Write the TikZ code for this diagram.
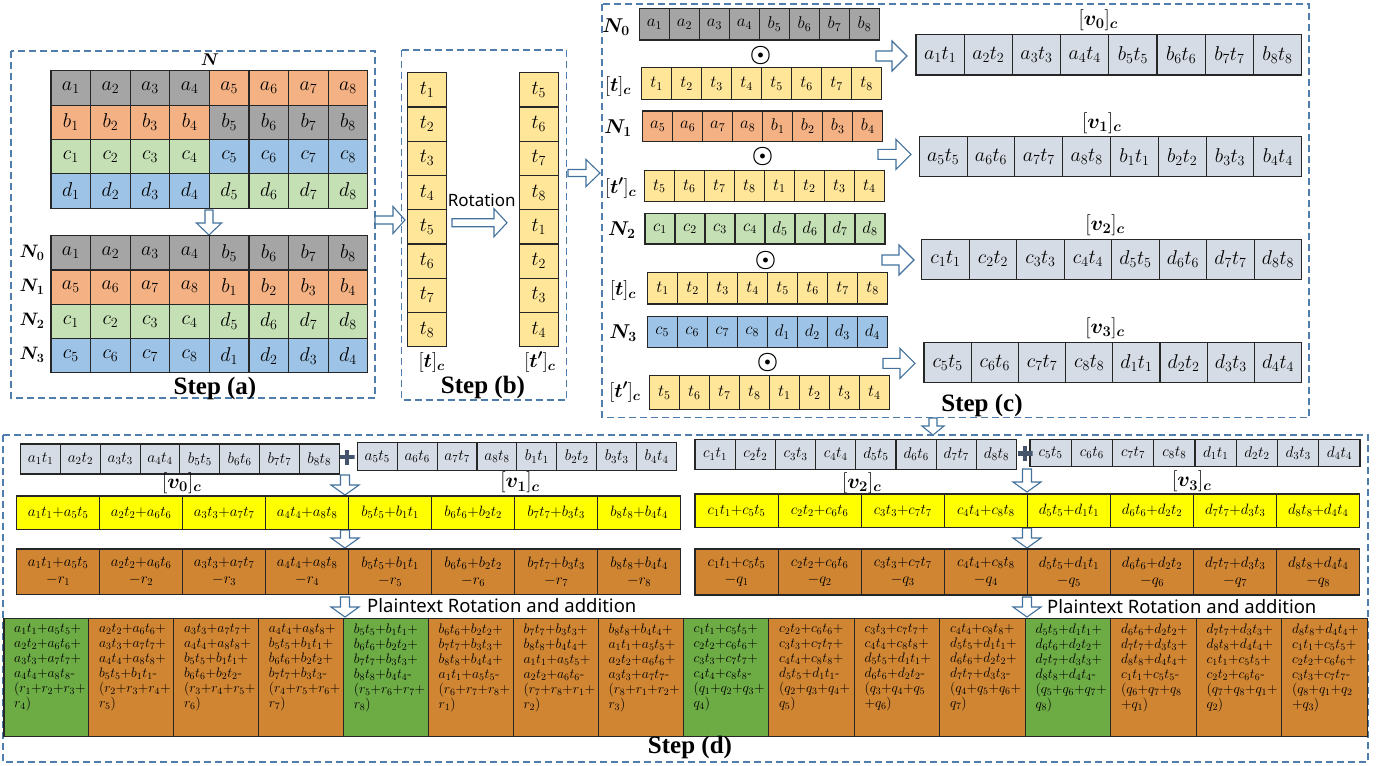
\RequirePackage{fix-cm}
\documentclass[tikz,border=0pt]{standalone}
\usepackage{amsmath}
\usepackage{fontspec}
\newfontfamily\stepfont{Liberation Serif}
\newfontfamily\lblfont{Noto Sans}
\definecolor{cgray}{HTML}{A5A5A5}
\definecolor{corange}{HTML}{F4B183}
\definecolor{cgreen}{HTML}{C5E0B4}
\definecolor{cblue}{HTML}{9DC3E6}
\definecolor{ctan}{HTML}{FFE699}
\definecolor{cv}{HTML}{D6DCE5}
\definecolor{cyel}{HTML}{FFFF00}
\definecolor{cbrown}{HTML}{D08533}
\definecolor{cgreenb}{HTML}{6DAB45}
\definecolor{cdash}{HTML}{4F7DAD}
\definecolor{carrow}{HTML}{41719C}
\definecolor{cborder}{HTML}{262626}
\definecolor{cplus}{HTML}{44546A}
\newcommand{\vt}[2]{#1_{#2}t_{#2}}
\newcommand{\pr}[4]{#1_{#2}t_{#2}{+}#3_{#4}t_{#4}}
% name, style, x0, y0, w, h, list of fill/text
\newcommand{\mixrow}[7]{%
  \foreach \fc/\tx [count=\i] in {#7} {
    \node[cellbox, #2, fill=\fc, minimum width=#5, minimum height=#6] (#1-\i) at ({#3+(\i-0.5)*#5},{#4+#6/2}) {$\tx$};
  }}
% name, style, x0, y0, w, h, color, list of texts
\newcommand{\unirow}[8]{%
  \foreach \tx [count=\i] in {#8} {
    \node[cellbox, #2, fill=#7, minimum width=#5, minimum height=#6] (#1-\i) at ({#3+(\i-0.5)*#5},{#4+#6/2}) {$\tx$};
  }}
% name, x0, y0, w, h, list of sum/minus
\newcommand{\orow}[6]{%
  \foreach \ta/\tb [count=\i] in {#6} {
    \node[cellbox, fill=cbrown, align=center, minimum width=#4, minimum height=#5, font=\fontsize{15}{17}\selectfont] (#1-\i) at ({#2+(\i-0.5)*#4},{#3+#5/2}) {$\ta$\\$-\tb$};
  }}
% name, x0, w, fill, text
\newcommand{\bcell}[5]{%
  \node[cellbox, fill=#4, minimum width=#3, minimum height=118.4] (#1) at ({#2+#3/2},677.5) {};
  \node[btext, anchor=north west] (#1-t) at ({#2+10},623.5) {#5};}
% x, y, angle, length, shaft half, head half, head length
\newcommand{\barr}[7]{%
  \draw[blockarrow, shift={(#1,#2)}, rotate=#3] (0,-#5) -- (#4-#7,-#5) -- (#4-#7,-#6) -- (#4,0) -- (#4-#7,#6) -- (#4-#7,#5) -- (0,#5) -- cycle;}
\begin{document}
\begin{tikzpicture}[x=1pt,y=-1pt,
  cellbox/.style={draw=cborder, line width=1.1pt, inner sep=0pt, outer sep=0pt},
  dashbox/.style={draw=cdash, line width=1.4pt, dash pattern=on 7pt off 4pt},
  blockarrow/.style={draw=carrow, fill=white, line width=1.1pt, line join=miter},
  steplbl/.style={inner sep=0pt, font=\stepfont\bfseries\fontsize{25}{25}\selectfont},
  mlbl/.style={inner sep=0pt, font=\fontsize{20}{20}\selectfont},
  slbl/.style={inner sep=0pt, font=\lblfont\fontsize{17}{17}\selectfont},
  fA/.style={font=\fontsize{20}{20}\selectfont},
  fC/.style={font=\fontsize{17}{17}\selectfont},
  fV/.style={font=\fontsize{20}{20}\selectfont},
  fD/.style={font=\fontsize{15.5}{15.5}\selectfont},
  fS/.style={font=\fontsize{15}{15}\selectfont},
  btext/.style={align=left, inner sep=0pt, font=\fontsize{13.8}{15}\selectfont},
  odot/.style={inner sep=0pt, font=\fontsize{24}{24}\selectfont},
  plusmark/.style={minimum size=15pt, inner sep=0pt, path picture={\draw[line width=4.5pt, cplus] (path picture bounding box.west) -- (path picture bounding box.east) (path picture bounding box.north) -- (path picture bounding box.south);}}
]
\useasboundingbox (0,0) rectangle (1385,766);

% ---------------- Step (a)
\draw[dashbox] (11,51) rectangle (375,398);
\node[mlbl, font=\fontsize{17}{17}\selectfont] (lN) at (210,60) {$\boldsymbol{N}$};
\mixrow{ga1}{fA}{51}{70.7}{39.6}{34.4}{cgray/a_1,cgray/a_2,cgray/a_3,cgray/a_4,corange/a_5,corange/a_6,corange/a_7,corange/a_8}
\mixrow{ga2}{fA}{51}{105.1}{39.6}{34.4}{corange/b_1,corange/b_2,corange/b_3,corange/b_4,cgray/b_5,cgray/b_6,cgray/b_7,cgray/b_8}
\mixrow{ga3}{fA}{51}{139.5}{39.6}{34.4}{cgreen/c_1,cgreen/c_2,cgreen/c_3,cgreen/c_4,cblue/c_5,cblue/c_6,cblue/c_7,cblue/c_8}
\mixrow{ga4}{fA}{51}{173.9}{39.6}{34.4}{cblue/d_1,cblue/d_2,cblue/d_3,cblue/d_4,cgreen/d_5,cgreen/d_6,cgreen/d_7,cgreen/d_8}
\barr{209}{210}{-90}{25}{4}{12.5}{12}
\unirow{gb1}{fA}{51}{235.7}{39.6}{34.3}{cgray}{a_1,a_2,a_3,a_4,b_5,b_6,b_7,b_8}
\unirow{gb2}{fA}{51}{270}{39.6}{34.3}{corange}{a_5,a_6,a_7,a_8,b_1,b_2,b_3,b_4}
\unirow{gb3}{fA}{51}{304.3}{39.6}{34.3}{cgreen}{c_1,c_2,c_3,c_4,d_5,d_6,d_7,d_8}
\unirow{gb4}{fA}{51}{338.6}{39.6}{34.3}{cblue}{c_5,c_6,c_7,c_8,d_1,d_2,d_3,d_4}
\node[mlbl, font=\fontsize{18}{18}\selectfont] (lN0) at (32,253) {$\boldsymbol{N_0}$};
\node[mlbl, font=\fontsize{18}{18}\selectfont] (lN1) at (32,287) {$\boldsymbol{N_1}$};
\node[mlbl, font=\fontsize{18}{18}\selectfont] (lN2) at (32,321) {$\boldsymbol{N_2}$};
\node[mlbl, font=\fontsize{18}{18}\selectfont] (lN3) at (32,355) {$\boldsymbol{N_3}$};
\node[steplbl] (stepa) at (215,388) {Step (a)};
\barr{375}{220}{0}{30}{4}{13.5}{12}

% ---------------- Step (b)
\draw[dashbox] (401.7,50) rectangle (566.7,400);
\foreach \tx [count=\i] in {1,2,3,4,5,6,7,8}
  \node[cellbox, fA, fill=ctan, minimum width=39.4, minimum height=34.25] (tb-\i) at (427,{72.7+(\i-0.5)*34.25}) {$t_{\tx}$};
\foreach \tx [count=\i] in {5,6,7,8,1,2,3,4}
  \node[cellbox, fA, fill=ctan, minimum width=39, minimum height=34.25] (tpb-\i) at (538.8,{72.7+(\i-0.5)*34.25}) {$t_{\tx}$};
\node[slbl] (rot) at (481.7,200.7) {Rotation};
\barr{452}{222.7}{0}{55}{4}{14}{13}
\node[mlbl] (ltb) at (431.7,362) {$[\boldsymbol{t}]_{\boldsymbol{c}}$};
\node[mlbl] (ltpb) at (540,362) {$[\boldsymbol{t'}]_{\boldsymbol{c}}$};
\node[steplbl] (stepb) at (483,387) {Step (b)};
\barr{568}{173}{0}{32}{3.5}{13.5}{14}

% ---------------- Step (c)
\draw[dashbox] (602,4) rectangle (1309,417.5);
\unirow{cN0}{fC}{639.5}{8.5}{30}{31.5}{cgray}{a_1,a_2,a_3,a_4,b_5,b_6,b_7,b_8}
\unirow{ct0}{fC}{641.7}{67.7}{30}{31.6}{ctan}{t_1,t_2,t_3,t_4,t_5,t_6,t_7,t_8}
\unirow{cN1}{fC}{642.7}{111}{30}{30.7}{corange}{a_5,a_6,a_7,a_8,b_1,b_2,b_3,b_4}
\unirow{ct1}{fC}{644.3}{170.7}{30}{31}{ctan}{t_5,t_6,t_7,t_8,t_1,t_2,t_3,t_4}
\unirow{cN2}{fC}{645}{213.3}{30}{30.7}{cgreen}{c_1,c_2,c_3,c_4,d_5,d_6,d_7,d_8}
\unirow{ct2}{fC}{647.7}{272.7}{30}{31.3}{ctan}{t_1,t_2,t_3,t_4,t_5,t_6,t_7,t_8}
\unirow{cN3}{fC}{647.3}{316.7}{30}{30.6}{cblue}{c_5,c_6,c_7,c_8,d_1,d_2,d_3,d_4}
\unirow{ct3}{fC}{649.3}{375.7}{30}{34}{ctan}{t_5,t_6,t_7,t_8,t_1,t_2,t_3,t_4}
\node[mlbl] (lcN0) at (616,27) {$\boldsymbol{N_0}$};
\node[mlbl] (lct0) at (618,86) {$[\boldsymbol{t}]_{\boldsymbol{c}}$};
\node[mlbl] (lcN1) at (618,128) {$\boldsymbol{N_1}$};
\node[mlbl] (lct1) at (620.7,188) {$[\boldsymbol{t'}]_{\boldsymbol{c}}$};
\node[mlbl] (lcN2) at (621.7,230) {$\boldsymbol{N_2}$};
\node[mlbl] (lct2) at (623,290) {$[\boldsymbol{t}]_{\boldsymbol{c}}$};
\node[mlbl] (lcN3) at (623,333) {$\boldsymbol{N_3}$};
\node[mlbl] (lct3) at (625,392) {$[\boldsymbol{t'}]_{\boldsymbol{c}}$};
\node[odot] (o0) at (760.7,55) {$\boldsymbol{\odot}$};
\node[odot] (o1) at (762.7,156) {$\boldsymbol{\odot}$};
\node[odot] (o2) at (765.7,260) {$\boldsymbol{\odot}$};
\node[odot] (o3) at (767.7,362.7) {$\boldsymbol{\odot}$};
\barr{876}{56}{0}{31}{5}{15}{15}
\barr{878}{154.3}{0}{33}{5}{15}{15}
\barr{882}{260}{0}{32}{5}{15}{15}
\barr{883}{363.3}{0}{32}{5}{15}{15}
\unirow{cv0}{fV}{916}{34.5}{48.2}{40.5}{cv}{\vt a1,\vt a2,\vt a3,\vt a4,\vt b5,\vt b6,\vt b7,\vt b8}
\unirow{cv1}{fV}{919.3}{136.7}{47.8}{40}{cv}{\vt a5,\vt a6,\vt a7,\vt a8,\vt b1,\vt b2,\vt b3,\vt b4}
\unirow{cv2}{fV}{921.7}{239.3}{47.5}{40}{cv}{\vt c1,\vt c2,\vt c3,\vt c4,\vt d5,\vt d6,\vt d7,\vt d8}
\unirow{cv3}{fV}{924}{342.7}{47.2}{40}{cv}{\vt c5,\vt c6,\vt c7,\vt c8,\vt d1,\vt d2,\vt d3,\vt d4}
\node[mlbl, font=\fontsize{21}{21}\selectfont] (lv0) at (1098.3,20) {$[\boldsymbol{v_0}]_{\boldsymbol{c}}$};
\node[mlbl, font=\fontsize{21}{21}\selectfont] (lv1) at (1101.7,123.3) {$[\boldsymbol{v_1}]_{\boldsymbol{c}}$};
\node[mlbl, font=\fontsize{21}{21}\selectfont] (lv2) at (1105,225) {$[\boldsymbol{v_2}]_{\boldsymbol{c}}$};
\node[mlbl, font=\fontsize{21}{21}\selectfont] (lv3) at (1105,328.3) {$[\boldsymbol{v_3}]_{\boldsymbol{c}}$};
\node[steplbl] (stepc) at (982,405) {Step (c)};
\barr{933}{418}{-90}{17}{4}{11}{9}

% ---------------- Step (d)
\draw[dashbox] (3,435) rectangle (1368,762);
\unirow{dv0}{fD}{20.7}{444}{39.8}{30}{cv}{\vt a1,\vt a2,\vt a3,\vt a4,\vt b5,\vt b6,\vt b7,\vt b8}
\unirow{dv1}{fD}{357.3}{442.7}{39.9}{27.5}{cv}{\vt a5,\vt a6,\vt a7,\vt a8,\vt b1,\vt b2,\vt b3,\vt b4}
\unirow{dv2}{fD}{695}{439.3}{40.2}{30}{cv}{\vt c1,\vt c2,\vt c3,\vt c4,\vt d5,\vt d6,\vt d7,\vt d8}
\unirow{dv3}{fD}{1030}{439.3}{41.25}{27.5}{cv}{\vt c5,\vt c6,\vt c7,\vt c8,\vt d1,\vt d2,\vt d3,\vt d4}
\node[plusmark] (plusL) at (347,457) {};
\node[plusmark] (plusR) at (1025,453.3) {};
\node[mlbl, font=\fontsize{21}{21}\selectfont] (ldv0) at (181.7,483.3) {$[\boldsymbol{v_0}]_{\boldsymbol{c}}$};
\node[mlbl, font=\fontsize{21}{21}\selectfont] (ldv1) at (520,482.7) {$[\boldsymbol{v_1}]_{\boldsymbol{c}}$};
\node[mlbl, font=\fontsize{21}{21}\selectfont] (ldv2) at (861.7,483.3) {$[\boldsymbol{v_2}]_{\boldsymbol{c}}$};
\node[mlbl, font=\fontsize{21}{21}\selectfont] (ldv3) at (1191.7,481.7) {$[\boldsymbol{v_3}]_{\boldsymbol{c}}$};
\barr{345}{475}{-90}{20}{4.5}{14}{10}
\barr{345}{530}{-90}{18}{4.5}{14}{10}
\barr{345}{597}{-90}{20}{4.5}{14}{10}
\barr{1027}{469}{-90}{23}{4.5}{14}{10}
\barr{1027}{528}{-90}{20}{4.5}{14}{10}
\barr{1027}{597}{-90}{20}{4.5}{14}{10}
\unirow{dyL}{fS}{16.7}{496}{83}{33.3}{cyel}{\pr a1a5,\pr a2a6,\pr a3a7,\pr a4a8,\pr b5b1,\pr b6b2,\pr b7b3,\pr b8b4}
\unirow{dyR}{fS}{695}{494}{83.1}{33.3}{cyel}{\pr c1c5,\pr c2c6,\pr c3c7,\pr c4c8,\pr d5d1,\pr d6d2,\pr d7d3,\pr d8d4}
\orow{doL}{16.7}{549}{83}{45.3}{\pr a1a5/r_1,\pr a2a6/r_2,\pr a3a7/r_3,\pr a4a8/r_4,\pr b5b1/r_5,\pr b6b2/r_6,\pr b7b3/r_7,\pr b8b4/r_8}
\orow{doR}{695}{549}{83.1}{46}{\pr c1c5/q_1,\pr c2c6/q_2,\pr c3c7/q_3,\pr c4c8/q_4,\pr d5d1/q_5,\pr d6d2/q_6,\pr d7d3/q_7,\pr d8d4/q_8}
\node[slbl, anchor=west, font=\lblfont\fontsize{18.5}{18.5}\selectfont] (praL) at (367,606) {Plaintext Rotation and addition};
\node[slbl, anchor=west, font=\lblfont\fontsize{18.5}{18.5}\selectfont] (praR) at (1047,607) {Plaintext Rotation and addition};

% bottom cells left
\bcell{bL1}{4}{84.9}{cgreenb}{$\pr a1a5{+}$\\$\pr a2a6{+}$\\$\pr a3a7{+}$\\$\pr a4a8$-\\$(r_1{+}r_2{+}r_3{+}$\\$r_4)$}
\bcell{bL2}{88.9}{84.9}{cbrown}{$\pr a2a6{+}$\\$\pr a3a7{+}$\\$\pr a4a8{+}$\\$\pr b5b1$-\\$(r_2{+}r_3{+}r_4{+}$\\$r_5)$}
\bcell{bL3}{173.8}{84.9}{cbrown}{$\pr a3a7{+}$\\$\pr a4a8{+}$\\$\pr b5b1{+}$\\$\pr b6b2$-\\$(r_3{+}r_4{+}r_5{+}$\\$r_6)$}
\bcell{bL4}{258.7}{84.9}{cbrown}{$\pr a4a8{+}$\\$\pr b5b1{+}$\\$\pr b6b2{+}$\\$\pr b7b3$-\\$(r_4{+}r_5{+}r_6{+}$\\$r_7)$}
\bcell{bL5}{343.6}{84.9}{cgreenb}{$\pr b5b1{+}$\\$\pr b6b2{+}$\\$\pr b7b3{+}$\\$\pr b8b4$-\\$(r_5{+}r_6{+}r_7{+}$\\$r_8)$}
\bcell{bL6}{428.5}{84.9}{cbrown}{$\pr b6b2{+}$\\$\pr b7b3{+}$\\$\pr b8b4{+}$\\$\pr a1a5$-\\$(r_6{+}r_7{+}r_8{+}$\\$r_1)$}
\bcell{bL7}{513.4}{84.9}{cbrown}{$\pr b7b3{+}$\\$\pr b8b4{+}$\\$\pr a1a5{+}$\\$\pr a2a6$-\\$(r_7{+}r_8{+}r_1{+}$\\$r_2)$}
\bcell{bL8}{598.3}{84.9}{cbrown}{$\pr b8b4{+}$\\$\pr a1a5{+}$\\$\pr a2a6{+}$\\$\pr a3a7$-\\$(r_8{+}r_1{+}r_2{+}$\\$r_3)$}
% bottom cells right
\bcell{bR1}{683.3}{85.5}{cgreenb}{$\pr c1c5{+}$\\$\pr c2c6{+}$\\$\pr c3c7{+}$\\$\pr c4c8$-\\$(q_1{+}q_2{+}q_3{+}$\\$q_4)$}
\bcell{bR2}{768.8}{85.5}{cbrown}{$\pr c2c6{+}$\\$\pr c3c7{+}$\\$\pr c4c8{+}$\\$\pr d5d1$-\\$(q_2{+}q_3{+}q_4{+}$\\$q_5)$}
\bcell{bR3}{854.3}{85.5}{cbrown}{$\pr c3c7{+}$\\$\pr c4c8{+}$\\$\pr d5d1{+}$\\$\pr d6d2$-\\$(q_3{+}q_4{+}q_5$\\${+}q_6)$}
\bcell{bR4}{939.8}{85.5}{cbrown}{$\pr c4c8{+}$\\$\pr d5d1{+}$\\$\pr d6d2{+}$\\$\pr d7d3$-\\$(q_4{+}q_5{+}q_6{+}$\\$q_7)$}
\bcell{bR5}{1025.3}{85.5}{cgreenb}{$\pr d5d1{+}$\\$\pr d6d2{+}$\\$\pr d7d3{+}$\\$\pr d8d4$-\\$(q_5{+}q_6{+}q_7{+}$\\$q_8)$}
\bcell{bR6}{1110.8}{85.5}{cbrown}{$\pr d6d2{+}$\\$\pr d7d3{+}$\\$\pr d8d4{+}$\\$\pr c1c5$-\\$(q_6{+}q_7{+}q_8$\\${+}q_1)$}
\bcell{bR7}{1196.3}{85.5}{cbrown}{$\pr d7d3{+}$\\$\pr d8d4{+}$\\$\pr c1c5{+}$\\$\pr c2c6$-\\$(q_7{+}q_8{+}q_1{+}$\\$q_2)$}
\bcell{bR8}{1281.8}{85.5}{cbrown}{$\pr d8d4{+}$\\$\pr c1c5{+}$\\$\pr c2c6{+}$\\$\pr c3c7$-\\$(q_8{+}q_1{+}q_2$\\${+}q_3)$}
\node[steplbl] (stepd) at (690,747) {Step (d)};
\end{tikzpicture}
\end{document}
